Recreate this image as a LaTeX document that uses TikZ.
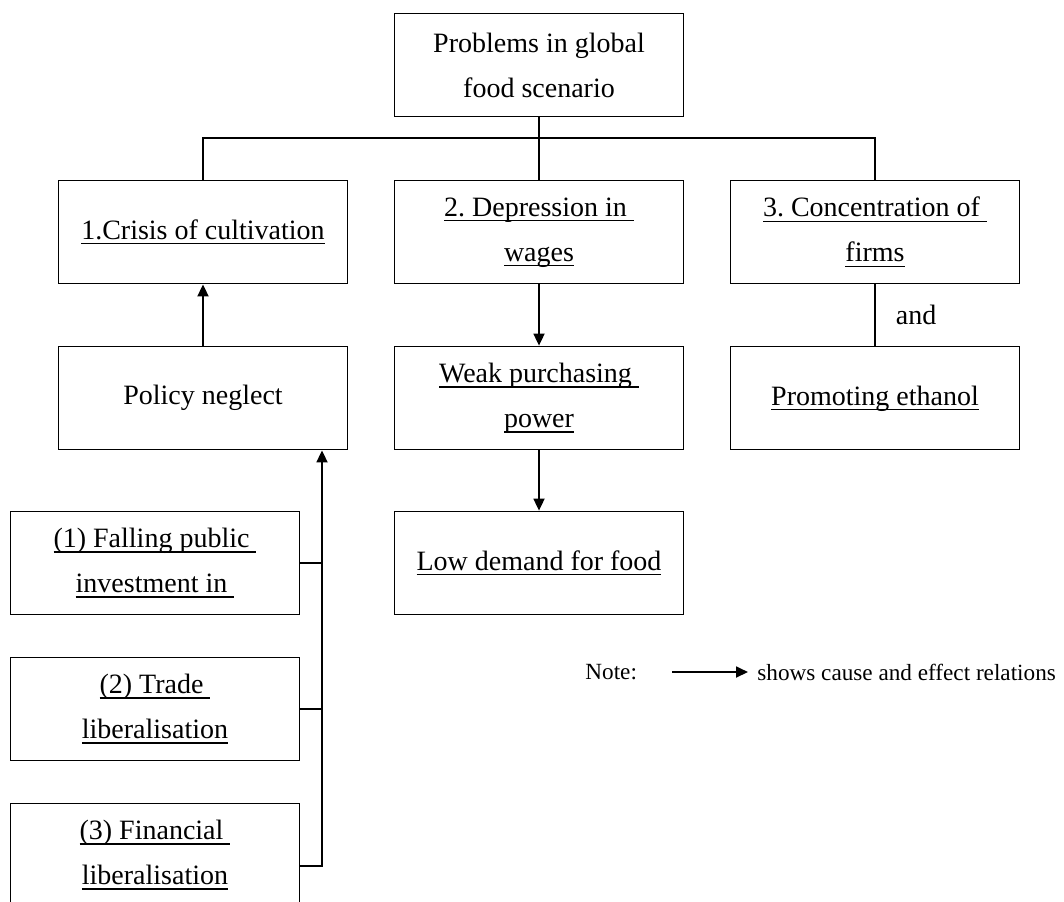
\documentclass[tikz,border=0pt]{standalone}
\usepackage{fontspec}
\setmainfont{Liberation Serif}
\frenchspacing
\usetikzlibrary{arrows.meta,positioning}
\newcommand{\uln}[1]{\begingroup\setbox0\hbox{#1}\dp0=0pt\vtop{\box0\kern1.8pt\hrule height 0.6pt}\endgroup}

\begin{document}
\begin{tikzpicture}[
  x=0.5pt, y=-0.5pt,
  box/.style={draw, line width=0.9pt, minimum width=144.5pt, minimum height=51.5pt, inner sep=0pt, align=center, font=\fontsize{14}{22.5}\selectfont},
  txt/.style={inner sep=0pt, font=\fontsize{14}{22.5}\selectfont},
  notetxt/.style={inner sep=0pt, font=\fontsize{11.6}{14}\selectfont},
  link/.style={line width=0.9pt},
  cause/.style={line width=0.9pt, -{Triangle[length=6pt, width=5.5pt]}}
]
  \useasboundingbox (0,0) rectangle (1064,901);

  % Top
  \node[box] (top) at (539,65) {Problems in global\\food scenario};

  % Row 1
  \node[box] (crisis) at (203,232) {\uln{1.Crisis of cultivation}};
  \node[box] (wages) at (539,232) {\uln{2. Depression in\ }\\\uln{wages}};
  \node[box] (firms) at (875,232) {\uln{3. Concentration of\ }\\\uln{firms}};

  % Row 2
  \node[box] (policy) at (203,398) {Policy neglect};
  \node[box] (power) at (539,398) {\uln{Weak purchasing\ }\\\uln{power}};
  \node[box] (ethanol) at (875,398) {\uln{Promoting ethanol}};

  % Row 3
  \node[box] (demand) at (539,563) {\uln{Low demand for food}};

  % Causes of neglect
  \node[box] (fall) at (155,563) {\uln{(1) Falling public\ }\\\uln{investment in\ }};
  \node[box] (trade) at (155,709) {\uln{(2) Trade\ }\\\uln{liberalisation}};
  \node[box] (fin) at (155,855) {\uln{(3) Financial\ }\\\uln{liberalisation}};

  % Tree
  \coordinate (bus) at (539,138);
  \coordinate (trunk) at (322,866);
  \draw[link] (top) -- (wages);
  \draw[link] (crisis.north) |- (bus) -| (firms.north);
  \draw[link] (firms) -- node[txt, right=10pt] {and} (ethanol);

  % Cause and effect
  \draw[cause] (policy) -- (crisis);
  \draw[cause] (wages) -- (power);
  \draw[cause] (power) -- (demand);
  \draw[link] (fall.east) -- (fall.east -| trunk);
  \draw[link] (trade.east) -- (trade.east -| trunk);
  \draw[cause] (fin.east |- trunk) -- (trunk) -- (policy.south -| trunk);

  % Note
  \node[notetxt, anchor=west] (note) at (585,672) {Note:};
  \node[notetxt, anchor=west] (shows) at (757,672) {shows cause and effect relations};
  \coordinate (from) at (672,672);
  \draw[cause, shorten >=4.5pt] (from) -- (shows.west);
\end{tikzpicture}
\end{document}
